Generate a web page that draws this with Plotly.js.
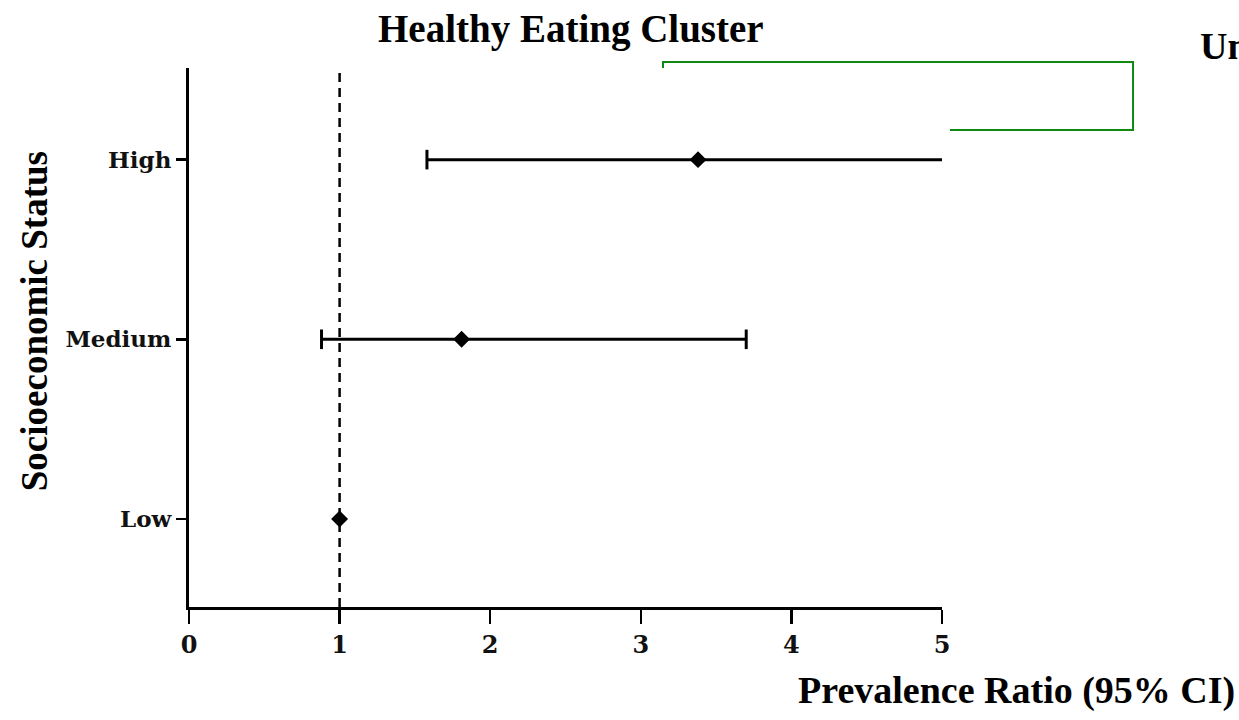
<!DOCTYPE html>
<html>
<head>
<meta charset="utf-8">
<script src="https://cdn.plot.ly/plotly-3.0.1.min.js"></script>
<style>html,body{margin:0;padding:0;background:#fff;}</style>
</head>
<body>
<div id="chart" style="width:1239px;height:720px;"></div>
<script>
// Data
var categories = ["Low", "Medium", "High"];
var ratio = [1.0, 1.81, 3.38];
var ciLow = [null, 0.88, 1.58];
var ciHigh = [null, 3.70, 5.02];
var capLow = [null, 0.88, 1.58];
var capHigh = [null, 3.70, null];   // high upper bound runs past the axis end
var xTicks = [0, 1, 2, 3, 4, 5];
var refValue = 1;

var font = "Liberation Serif, Times New Roman, serif";
var tickFont = "DejaVu Serif, serif";
var traces = [];

// CI lines
for (var i = 0; i < categories.length; i++) {
  if (ciLow[i] !== null) {
    traces.push({
      type: "scatter", mode: "lines",
      x: [ciLow[i], ciHigh[i]], y: [categories[i], categories[i]],
      line: {color: "#000", width: 3}, showlegend: false, hoverinfo: "skip",
      cliponaxis: false
    });
  }
}
// caps
var capX = [], capY = [];
for (var j = 0; j < categories.length; j++) {
  if (capLow[j] !== null) { capX.push(capLow[j]); capY.push(categories[j]); }
  if (capHigh[j] !== null) { capX.push(capHigh[j]); capY.push(categories[j]); }
}
traces.push({
  type: "scatter", mode: "markers", x: capX, y: capY,
  marker: {symbol: "line-ns", size: 14, line: {color: "#000", width: 3}},
  showlegend: false, hoverinfo: "skip", cliponaxis: false
});
// points
traces.push({
  type: "scatter", mode: "markers", x: ratio, y: categories,
  marker: {symbol: "diamond", size: 13, color: "#000"},
  showlegend: false, cliponaxis: false
});

var layout = {
  width: 1239, height: 720,
  margin: {l: 189, r: 297, t: 68, b: 113},
  paper_bgcolor: "#fff", plot_bgcolor: "#fff",
  showlegend: false,
  xaxis: {
    range: [0, 5], tickvals: xTicks, ticktext: xTicks.map(String),
    showgrid: false, zeroline: false,
    showline: true, linecolor: "#000", linewidth: 3,
    ticks: "outside", ticklen: 14, tickwidth: 2.5, tickcolor: "#000",
    tickfont: {family: tickFont, size: 24, color: "#111", weight: "bold"},
    fixedrange: true
  },
  yaxis: {
    type: "category", categoryorder: "array", categoryarray: categories,
    range: [-0.49, 2.51],
    showgrid: false, zeroline: false,
    showline: true, linecolor: "#000", linewidth: 3,
    ticks: "outside", ticklen: 10, tickwidth: 2.5, tickcolor: "#000",
    tickfont: {family: tickFont, size: 23, color: "#111", weight: "bold"},
    fixedrange: true
  },
  shapes: [
    {type: "line", xref: "x", yref: "paper", x0: refValue, x1: refValue, y0: 0, y1: 0.995,
     line: {color: "#000", width: 2.5, dash: "9px,6px"}},
    {type: "path", xref: "paper", yref: "paper",
     path: "M 0.6295 1.0 L 0.6295 1.0111 L 1.2537 1.0111 L 1.2537 0.885 L 1.0106 0.885",
     line: {color: "#108a10", width: 2}}
  ],
  annotations: [
    {text: "<b>Healthy Eating Cluster</b>", xref: "paper", yref: "paper",
     x: 0.507, y: 1.072, xanchor: "center", yanchor: "middle", showarrow: false,
     font: {family: font, size: 39, color: "#000"}},
    {text: "<b>Unhealthy Eating Cluster</b>", xref: "paper", yref: "paper",
     x: 1.340, y: 1.040, xanchor: "left", yanchor: "middle", showarrow: false,
     font: {family: font, size: 38, color: "#000"}},
    {text: "<b>Prevalence Ratio (95% CI)</b>", xref: "paper", yref: "paper",
     x: 1.392, y: -0.155, xanchor: "right", yanchor: "middle", showarrow: false,
     font: {family: font, size: 38, color: "#000"}},
    {text: "<b>Socioeconomic Status</b>", xref: "paper", yref: "paper",
     x: -0.206, y: 0.53, xanchor: "center", yanchor: "middle", showarrow: false,
     textangle: -90, font: {family: font, size: 37, color: "#000"}}
  ]
};

Plotly.newPlot("chart", traces, layout, {displayModeBar: false, staticPlot: true});
</script>
</body>
</html>
